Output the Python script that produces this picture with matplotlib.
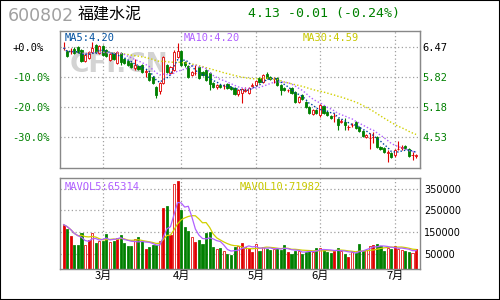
"""Candlestick + volume chart for 600802 (福建水泥), Feb-Jul."""

import numpy as np
import pandas as pd
import matplotlib
matplotlib.use("Agg")
import matplotlib.pyplot as plt
from matplotlib.patches import Rectangle

# ---- values ----
opens = [6.44, 6.38, 6.37, 6.43, 6.47, 6.41, 6.17, 6.23, 6.36, 6.51,
         6.34, 6.49, 6.41, 6.19, 6.34, 6.13, 6.34, 6.21, 6.17, 6.13,
         6.02, 6.06, 6.08, 5.93, 5.91, 5.82, 5.61, 5.52, 5.69, 6.08,
         5.91, 5.97, 6.25, 6.38, 6.15, 6.06, 5.87, 5.90, 6.04, 5.93,
         5.97, 5.91, 5.69, 5.61, 5.65, 5.62, 5.67, 5.61, 5.59, 5.46,
         5.48, 5.52, 5.48, 5.63, 5.65, 5.80, 5.72, 5.89, 5.82, 5.77,
         5.80, 5.65, 5.59, 5.53, 5.59, 5.50, 5.28, 5.44, 5.28, 5.18,
         5.03, 5.11, 5.00, 5.20, 5.07, 4.98, 4.97, 4.92, 4.86, 4.85,
         4.74, 4.78, 4.85, 4.75, 4.66, 4.53, 4.50, 4.52, 4.53, 4.31,
         4.29, 4.19, 4.19, 4.14, 4.26, 4.30, 4.33, 4.27, 4.13, 4.12]
closes = [6.45, 6.28, 6.38, 6.34, 6.36, 6.17, 6.30, 6.36, 6.45, 6.36,
          6.49, 6.30, 6.28, 6.32, 6.21, 6.36, 6.15, 6.13, 6.08, 6.04,
          6.08, 6.00, 5.93, 5.94, 5.76, 5.69, 5.44, 5.69, 6.25, 5.93,
          6.04, 6.36, 6.38, 6.08, 6.08, 5.82, 5.93, 5.91, 5.80, 5.87,
          5.76, 5.67, 5.61, 5.65, 5.61, 5.63, 5.59, 5.56, 5.46, 5.54,
          5.56, 5.54, 5.59, 5.65, 5.74, 5.72, 5.87, 5.80, 5.78, 5.78,
          5.65, 5.54, 5.54, 5.54, 5.48, 5.28, 5.39, 5.35, 5.18, 5.05,
          5.11, 5.05, 5.22, 5.05, 5.00, 4.94, 4.98, 4.79, 4.87, 4.79,
          4.75, 4.79, 4.72, 4.66, 4.55, 4.57, 4.51, 4.53, 4.31, 4.27,
          4.21, 4.20, 4.10, 4.25, 4.27, 4.31, 4.29, 4.12, 4.14, 4.13]
highs = [6.58, 6.41, 6.45, 6.47, 6.49, 6.43, 6.32, 6.38, 6.58, 6.53,
         6.51, 6.51, 6.43, 6.36, 6.36, 6.38, 6.36, 6.23, 6.19, 6.15,
         6.21, 6.08, 6.10, 6.00, 5.93, 5.84, 5.63, 5.71, 6.28, 6.10,
         6.06, 6.41, 6.56, 6.41, 6.17, 6.08, 5.95, 6.08, 6.06, 5.95,
         6.00, 5.93, 5.72, 5.67, 5.67, 5.67, 5.69, 5.63, 5.61, 5.56,
         5.59, 5.61, 5.61, 5.69, 5.76, 5.82, 5.89, 5.93, 5.84, 5.82,
         5.82, 5.67, 5.61, 5.56, 5.61, 5.52, 5.41, 5.46, 5.31, 5.20,
         5.13, 5.13, 5.24, 5.22, 5.09, 5.00, 5.05, 4.94, 4.92, 4.94,
         4.79, 4.83, 4.87, 4.77, 4.68, 4.60, 4.62, 4.64, 4.55, 4.33,
         4.31, 4.25, 4.21, 4.27, 4.44, 4.36, 4.36, 4.29, 4.21, 4.16]
lows = [6.41, 6.25, 6.32, 6.32, 6.34, 6.15, 6.15, 6.21, 6.34, 6.34,
        6.32, 6.28, 6.25, 6.17, 6.19, 6.10, 6.08, 6.10, 6.06, 6.02,
        5.97, 5.97, 5.91, 5.82, 5.74, 5.67, 5.37, 5.46, 5.67, 5.91,
        5.89, 5.95, 6.23, 6.06, 6.04, 5.80, 5.84, 5.87, 5.78, 5.84,
        5.74, 5.54, 5.59, 5.56, 5.59, 5.56, 5.56, 5.54, 5.44, 5.42,
        5.26, 5.50, 5.46, 5.61, 5.63, 5.69, 5.69, 5.78, 5.76, 5.69,
        5.63, 5.44, 5.52, 5.50, 5.46, 5.26, 5.26, 5.33, 5.16, 5.03,
        5.00, 5.03, 4.96, 5.03, 4.98, 4.92, 4.85, 4.68, 4.83, 4.68,
        4.68, 4.75, 4.70, 4.64, 4.53, 4.51, 4.27, 4.40, 4.29, 4.25,
        4.19, 3.99, 4.08, 4.10, 4.25, 4.25, 4.27, 4.10, 4.03, 4.08]
volumes = [184600, 166000, 134000, 92000, 92000, 148000, 92000, 115000, 148000, 101000,
           111000, 111000, 143000, 106000, 111000, 125000, 138000, 101000, 88000, 88000,
           120000, 129000, 111000, 74000, 83000, 92000, 92000, 111000, 263000, 272000,
           138000, 374000, 388000, 254000, 175000, 157000, 129000, 106000, 115000, 97000,
           148000, 152000, 83000, 74000, 78000, 65000, 51000, 46000, 83000, 88000,
           101000, 83000, 78000, 60000, 97000, 65000, 83000, 74000, 69000, 74000,
           74000, 69000, 92000, 60000, 51000, 65000, 65000, 51000, 60000, 65000,
           60000, 78000, 78000, 69000, 60000, 55000, 65000, 78000, 65000, 51000,
           37000, 60000, 55000, 97000, 65000, 69000, 88000, 92000, 97000, 88000,
           65000, 78000, 74000, 88000, 74000, 69000, 65000, 60000, 55000, 74000]
# r = red filled, h = red hollow, g = green
vol_kind = ("rgrggghrhg" "hgghgrgggg" "hggrggghrg" "rhrggghrgg" "ggghghgggh"
            "rhrrhghggh" "gggrgghggg" "hghgggrghg" "rhggghhrgg" "ghgrhhgghr")

month_pos = [11, 33, 54, 72, 93]
month_labels = ["3月", "4月", "5月", "6月", "7月"]
ref_price = 6.47
pct_levels = [0.0, -0.10, -0.20, -0.30]
pct_labels = ["+0.0%", "-10.0%", "-20.0%", "-30.0%"]
price_labels = ["6.47", "5.82", "5.18", "4.53"]
vol_ticks = [50000, 150000, 250000, 350000]

RED = "#e00000"
GREEN = "#008000"
GRID = "#a0a0a0"
FRAME = "#888888"
MONO = "DejaVu Sans Mono"

o = np.array(opens)
c = np.array(closes)
h = np.array(highs)
l = np.array(lows)
v = np.array(volumes)
x = np.arange(len(c))

ma5 = pd.Series(c).rolling(5, min_periods=1).mean()
ma10 = pd.Series(c).rolling(10, min_periods=1).mean()
ma30 = pd.Series(c).rolling(30, min_periods=1).mean()
mav5 = pd.Series(v).rolling(5, min_periods=1).mean()
mav10 = pd.Series(v).rolling(10, min_periods=1).mean()

fig = plt.figure(figsize=(5, 3), dpi=100)
ax = fig.add_axes([60 / 500, 1 - 168 / 300, 360 / 500, 137 / 300])
vax = fig.add_axes([60 / 500, 1 - 269 / 300, 360 / 500, 91 / 300])

grid_kw = dict(color=GRID, linestyle=(0, (1, 2)), linewidth=0.9)
price_ticks = [ref_price * (1 + p) for p in pct_levels]

# ---- price panel ----
up = c >= o
ax.vlines(x, l, h, colors=np.where(up, RED, GREEN), linewidth=0.8, zorder=2)
ax.bar(x, np.maximum(np.abs(c - o), 0.004), bottom=np.minimum(o, c), width=0.6,
       color=np.where(up, "white", GREEN), edgecolor=np.where(up, RED, GREEN),
       linewidth=0.6, zorder=3)
ax.plot(x, ma30, color="#d0d000", linestyle=(0, (1, 1.5)), linewidth=1.0, zorder=4)
ax.plot(x, ma10, color="#b060ff", linestyle=(0, (1, 1.5)), linewidth=1.0, zorder=4)
ax.plot(x, ma5, color="#0040a0", linestyle=(0, (1, 1.5)), linewidth=1.0, zorder=4)

ax.set_xlim(-1.04, 100.1)
ax.set_ylim(3.86, 6.81)
ax.set_xticks(month_pos)
ax.set_xticklabels([])
ax.set_yticks(price_ticks)
ax.set_yticklabels(pct_labels, fontfamily=MONO, fontsize=7.5)
ax.tick_params(axis="x", length=0)
ax.tick_params(axis="y", length=0, pad=34.5)
for lbl, col in zip(ax.get_yticklabels(), ["black"] + [GREEN] * 3):
    lbl.set_color(col)
    lbl.set_horizontalalignment("left")
ax.grid(True, **grid_kw)
ax.set_axisbelow(True)

sec = ax.secondary_yaxis("right")
sec.set_ticks(price_ticks, labels=price_labels)
sec.tick_params(length=0, pad=1.5, labelsize=7.5)
for lbl, col in zip(sec.get_yticklabels(), ["black"] + [GREEN] * 3):
    lbl.set_color(col)
    lbl.set_fontfamily(MONO)
sec.spines["right"].set_color(FRAME)

ax.text(0.028, 0.75, "CFI.CN", transform=ax.transAxes, fontsize=19,
        fontweight="bold", color="#d3d3d3", va="center", ha="left", zorder=1)
ax.text(0.014, 0.95, "MA5:4.20", transform=ax.transAxes, color="#0050a0",
        fontfamily=MONO, fontsize=7.5, va="center")
ax.text(0.344, 0.95, "MA10:4.20", transform=ax.transAxes, color="#b060ff",
        fontfamily=MONO, fontsize=7.5, va="center")
ax.text(0.675, 0.95, "MA30:4.59", transform=ax.transAxes, color="#c8c800",
        fontfamily=MONO, fontsize=7.5, va="center")

# ---- volume panel ----
VOL_MIN = -20000
face = {"r": RED, "h": "white", "g": GREEN}
edge = {"r": RED, "h": RED, "g": GREEN}
vax.bar(x, v - VOL_MIN, bottom=VOL_MIN, width=0.58,
        color=[face[k] for k in vol_kind], edgecolor=[edge[k] for k in vol_kind],
        linewidth=0.55, zorder=2)
vax.plot(x, mav10, color="#d0d000", linewidth=0.9, zorder=3)
vax.plot(x, mav5, color="#b060ff", linewidth=0.9, zorder=3)
vax.set_xlim(-1.04, 100.1)
vax.set_ylim(VOL_MIN, 400000)
vax.set_xticks(month_pos)
vax.set_xticklabels(month_labels, fontfamily=["Noto Sans CJK SC"], fontsize=8)
vax.tick_params(axis="x", length=0, pad=1)
vax.yaxis.tick_right()
vax.set_yticks(vol_ticks)
vax.set_yticklabels([str(t) for t in vol_ticks], fontsize=7)
vax.tick_params(axis="y", length=0, pad=3)
vax.grid(True, **grid_kw)
vax.set_axisbelow(True)
vax.text(0.014, 0.9, "MAVOL5:65314", transform=vax.transAxes, color="#b060ff",
         fontfamily=MONO, fontsize=7.5, va="center")
vax.text(0.5, 0.9, "MAVOL10:71982", transform=vax.transAxes, color="#c8c800",
         fontfamily=MONO, fontsize=7.5, va="center")

for a in (ax, vax):
    for s in a.spines.values():
        s.set_color(FRAME)
        s.set_linewidth(1.0)

# ---- header ----
fig.text(8 / 500, 1 - 16 / 300, "600802", fontsize=12.5, color="#a0a0a0", va="center")
fig.text(78 / 500, 1 - 15 / 300, "福建水泥", fontsize=11.5, color="black", va="center",
         family=["Noto Sans CJK SC", "DejaVu Sans"])
fig.text(248 / 500, 1 - 14 / 300, "4.13 -0.01 (-0.24%)", fontsize=9.5, color=GREEN,
         va="center", family=MONO)

fig.add_artist(Rectangle((0, 0), 1, 1, transform=fig.transFigure, fill=False,
                         edgecolor="black", linewidth=1.5))

fig.savefig("out.png", dpi=100)
